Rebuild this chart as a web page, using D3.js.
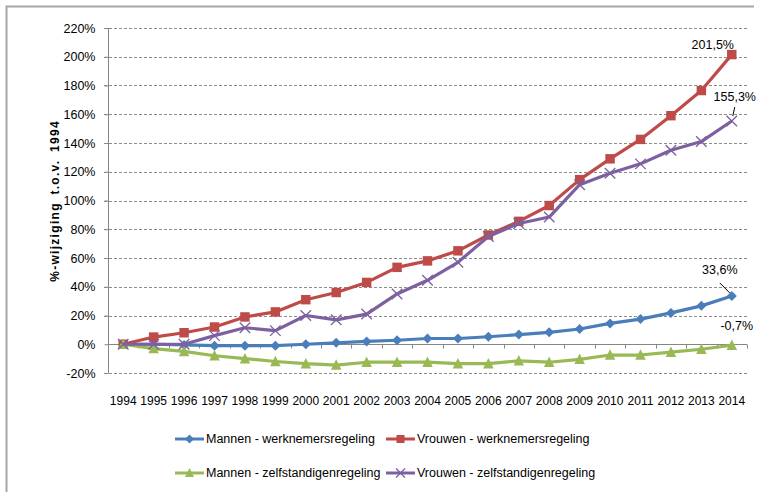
<!DOCTYPE html>
<meta charset="utf-8">
<style>
body { margin: 0; background: #fff; }
svg { display: block; }
text { font-family: "Liberation Sans", Arial, sans-serif; fill: #000; }
.grid line { stroke: #8c8c8c; stroke-dasharray: 3,2; }
.serie > path { fill: none; stroke-width: 3.2; stroke-linejoin: round; }
</style>
<svg width="757" height="492"></svg>
<script src="https://d3js.org/d3.v7.min.js"></script>
<script>

var years = ["1994","1995","1996","1997","1998","1999","2000","2001","2002","2003","2004",
             "2005","2006","2007","2008","2009","2010","2011","2012","2013","2014"];

var mannenWerk = [0, 0, -0.5, -1, -1, -1, 0, 1, 2, 2.8, 4, 4, 5.2, 6.7, 8.3, 10.6, 14.5, 17.5, 21.8, 26.7, 33.6];
var vrouwenWerk = [0, 5, 8, 12, 19, 22.5, 31, 36, 43, 53.5, 58, 65, 76, 85.5, 96.5, 114.5, 129, 142.5, 159, 176.5, 201.5];
var mannenZelf = [0, -3, -5, -8, -10, -12, -13.5, -14.5, -12.5, -12.5, -12.5, -13.5, -13.5, -11.5, -12.5, -10.5, -7.5, -7.5, -5.5, -3.5, -0.7];
var vrouwenZelf = [0, 0, 0, 6, 11.5, 9.5, 20, 17, 21, 35, 44.5, 57, 75, 84, 88.5, 111, 119, 125.5, 135, 141, 155.3];

var yTicks = [-20, 0, 20, 40, 60, 80, 100, 120, 140, 160, 180, 200, 220];

var series = [
  {name: "Mannen - werknemersregeling", values: mannenWerk, color: "#4a7ebb", symbol: "diamond"},
  {name: "Vrouwen - werknemersregeling", values: vrouwenWerk, color: "#be4b48", symbol: "square"},
  {name: "Mannen - zelfstandigenregeling", values: mannenZelf, color: "#98b954", symbol: "triangle"},
  {name: "Vrouwen - zelfstandigenregeling", values: vrouwenZelf, color: "#7d60a0", symbol: "cross"}
];

var svg = d3.select("svg");

// chart frame (only top and left edge are in view)
svg.append("path")
    .attr("d", "M6.5,492V6.5H754")
    .attr("fill", "none")
    .attr("stroke", "#a6a6a6")
    .attr("stroke-width", 2);

var plot = {left: 108, right: 747, top: 28, bottom: 373};

var x = d3.scaleBand()
    .domain(years)
    .range([plot.left, plot.right]);

var y = d3.scaleLinear()
    .domain([-20, 220])
    .range([plot.bottom, plot.top]);

// dashed grid
svg.append("g")
    .attr("class", "grid")
  .selectAll("line")
  .data(yTicks.filter(function(d) { return d !== 0; }))
  .enter().append("line")
    .attr("x1", plot.left - 4)
    .attr("x2", plot.right)
    .attr("y1", function(d) { return Math.round(y(d)) + 0.5; })
    .attr("y2", function(d) { return Math.round(y(d)) + 0.5; });

// y axis
var yAxis = svg.append("g")
    .attr("transform", "translate(" + (plot.left + 0.5) + ",0)")
    .call(d3.axisLeft(y).tickValues(yTicks).tickSize(4).tickFormat(function(d) { return d + "%"; }));
yAxis.select(".domain").attr("stroke", "#868686").attr("d", "M0," + plot.top + "V" + plot.bottom);
yAxis.selectAll(".tick line").attr("stroke", "#868686");
yAxis.selectAll(".tick text")
    .attr("x", -13)
    .style("font-size", "12.5px");

// x axis at 0%
var y0 = Math.round(y(0)) + 0.5;
svg.append("line")
    .attr("x1", plot.left).attr("x2", plot.right)
    .attr("y1", y0).attr("y2", y0)
    .attr("stroke", "#868686");

svg.append("g").selectAll("line")
  .data(years.concat(["end"]))
  .enter().append("line")
    .attr("x1", function(d, i) { return Math.round(plot.left + i * x.step()) + 0.5; })
    .attr("x2", function(d, i) { return Math.round(plot.left + i * x.step()) + 0.5; })
    .attr("y1", y0).attr("y2", y0 + 4)
    .attr("stroke", "#868686");

svg.append("g").selectAll("text")
  .data(years)
  .enter().append("text")
    .attr("x", function(d) { return x(d) + x.bandwidth() / 2; })
    .attr("y", 405)
    .attr("text-anchor", "middle")
    .style("font-size", "12px")
    .text(function(d) { return d; });

// y title
svg.append("text")
    .attr("transform", "translate(59,201) rotate(-90)")
    .attr("text-anchor", "middle")
    .style("font-weight", "bold")
    .style("font-size", "12px")
    .style("letter-spacing", "1.3px")
    .style("word-spacing", "3px")
    .text("%-wijziging  t.o.v. 1994");

var cx = function(d, i) { return x(years[i]) + x.bandwidth() / 2; };

var line = d3.line()
    .x(cx)
    .y(function(d) { return y(d); });

function drawMarker(sel, s, size) {
  var h = size / 2, p;
  if (s.symbol === "cross") {
    sel.append("path")
        .attr("d", "M" + -h + "," + -h + "L" + h + "," + h + "M" + -h + "," + h + "L" + h + "," + -h)
        .attr("stroke", s.color)
        .attr("stroke-width", 1.3)
        .attr("fill", "none");
    return;
  }
  if (s.symbol === "diamond") p = "M0," + -h + "L" + h + ",0L0," + h + "L" + -h + ",0Z";
  if (s.symbol === "square") { h = h * 0.9; p = "M" + -h + "," + -h + "H" + h + "V" + h + "H" + -h + "Z"; }
  if (s.symbol === "triangle") p = "M0," + (-h - 0.5) + "L" + h + "," + (h - 0.5) + "H" + -h + "Z";
  sel.append("path")
      .attr("d", p)
      .attr("fill", s.color);
}

var serie = svg.selectAll(".serie")
  .data(series)
  .enter().append("g")
    .attr("class", "serie");

serie.append("path")
    .attr("stroke", function(d) { return d.color; })
    .attr("d", function(d) { return line(d.values); });

serie.each(function(s) {
  d3.select(this).selectAll(".pt")
    .data(s.values)
    .enter().append("g")
      .attr("class", "pt")
      .attr("transform", function(d, i) { return "translate(" + cx(d, i) + "," + y(d) + ")"; })
      .each(function() { drawMarker(d3.select(this), s, s.symbol === "diamond" ? 10 : 10.5); });
});

// end labels
var last = years.length - 1;
var lastX = cx(null, last);

var labels = [
  {text: "201,5%", v: vrouwenWerk[last], dx: -19, dy: -6},
  {text: "155,3%", v: vrouwenZelf[last], dx: 3, dy: -20, lead: [3, -14, 1, -5]},
  {text: "33,6%", v: mannenWerk[last], dx: -12, dy: -22, lead: [-12, -13, -2, -3]},
  {text: "-0,7%", v: mannenZelf[last], dx: 5, dy: -15}
];

labels.forEach(function(l) {
  var px = lastX, py = y(l.v);
  svg.append("text")
      .attr("x", px + l.dx)
      .attr("y", py + l.dy)
      .attr("text-anchor", "middle")
      .style("font-size", "12.5px")
      .text(l.text);
  if (l.lead) {
    svg.append("line")
        .attr("x1", px + l.lead[0]).attr("y1", py + l.lead[1])
        .attr("x2", px + l.lead[2]).attr("y2", py + l.lead[3])
        .attr("stroke", "#000");
  }
});

// legend
var legendPos = [[175, 439], [386, 439], [175, 473], [386, 473]];
var legend = svg.selectAll(".legend")
  .data(series)
  .enter().append("g")
    .attr("class", "legend")
    .attr("transform", function(d, i) { return "translate(" + legendPos[i][0] + "," + legendPos[i][1] + ")"; });

legend.append("line")
    .attr("x1", 0).attr("x2", 29)
    .attr("stroke", function(d) { return d.color; })
    .attr("stroke-width", 3);

legend.append("g")
    .attr("transform", "translate(14.5,0)")
    .each(function(s) { drawMarker(d3.select(this), s, 9); });

legend.append("text")
    .attr("x", 31)
    .attr("dy", "0.35em")
    .style("font-size", "12.5px")
    .text(function(d) { return d.name; });

</script>
